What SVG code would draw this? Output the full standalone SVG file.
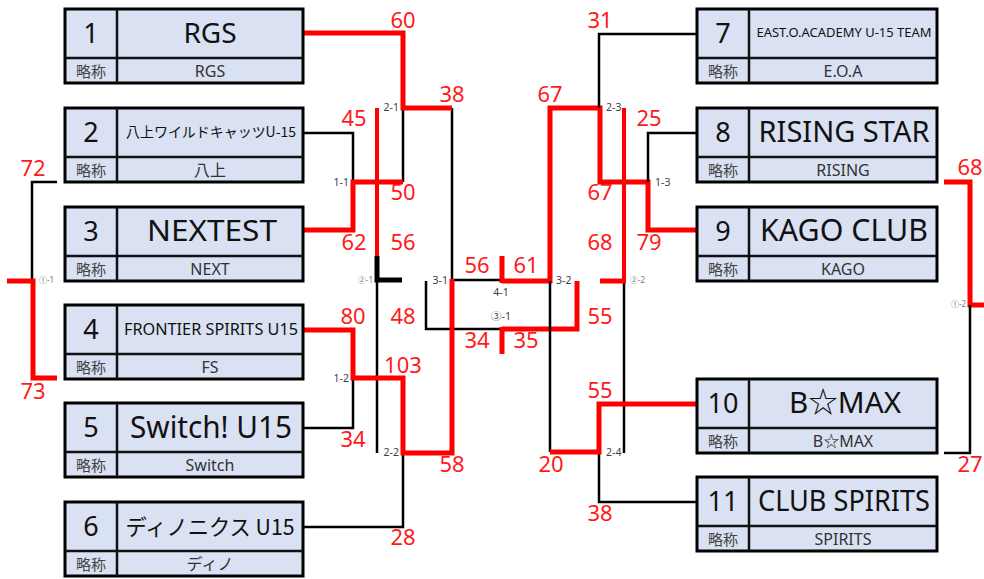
<svg xmlns="http://www.w3.org/2000/svg" width="984" height="579" viewBox="0 0 984 579">
<style>
.bx{fill:#D9E1F2;stroke:#000;stroke-width:3}
.dv{stroke:#111;stroke-width:2.5}
text{font-family:"Noto Sans","Noto Sans CJK JP",sans-serif}
.num{font-size:27px;fill:#111;text-anchor:middle}
.nm{fill:#111;text-anchor:middle}
.ry{font-size:15px;fill:#444;text-anchor:middle;font-family:"Noto Sans CJK JP",sans-serif}
.ab{font-size:16px;fill:#333;text-anchor:middle}
.sc{font-size:22px;fill:#FF1A1A;text-anchor:middle}
.ml{font-size:10.5px;fill:#404040}
.cl{font-size:8px;fill:#777}
.r{fill:none;stroke:#FF0000;stroke-width:5}
.rt{fill:none;stroke:#FF0000;stroke-width:4}
.k{fill:none;stroke:#000;stroke-width:2.5}
.kb{fill:none;stroke:#000;stroke-width:5}
</style>

<g id="connectors">
<path class="k" d="M403,108 V182"/>
<path class="k" d="M452,108 V280"/>
<path class="k" d="M304,133 H353 V182"/>
<path class="k" d="M304,428 H353 V378"/>
<path class="k" d="M304,527 H403 V453"/>
<path class="k" d="M377,280 V453"/>
<path class="kb" d="M377,256 V280 H402"/>
<path class="k" d="M452,280 H502"/>
<path class="k" d="M426,281 V329 H502"/>
<path class="r" d="M304,33 H403 V108 H452"/>
<path class="r" d="M304,230 H353 V182 H403"/>
<path class="r" d="M304,330 H353 V378 H403 V453 H452 V279"/>
<path class="rt" d="M377,108 V256"/>
<path class="r" d="M502,256 V283"/>
<path class="r" d="M502,327 V354"/>
<path class="r" d="M502,281 H550 V108 H600 V182 H648 V230 H697"/>
<path class="r" d="M502,329 H577 V281"/>
<path class="k" d="M697,34 H599 V108"/>
<path class="k" d="M697,133 H648 V182"/>
<path class="k" d="M550,281 V452"/>
<path class="k" d="M697,502 H599 V452"/>
<path class="k" d="M624,281 V453"/>
<path class="r" d="M697,404 H599 V452 H550"/>
<path class="rt" d="M624,108 V281"/>
<path class="r" d="M600,281 H626"/>
<path class="k" d="M57,182 H32 V280"/>
<path class="r" d="M7,281 H33 V378 H57"/>
<path class="r" d="M944,182 H970 V305 H984"/>
<path class="k" d="M970,305 V453 H944"/>
</g>

<g id="scores">
<text class="sc" x="403" y="28">60</text>
<text class="sc" x="452" y="102">38</text>
<text class="sc" x="354" y="126">45</text>
<text class="sc" x="403" y="200">50</text>
<text class="sc" x="354" y="250">62</text>
<text class="sc" x="403" y="250">56</text>
<text class="sc" x="33" y="176">72</text>
<text class="sc" x="33" y="399">73</text>
<text class="sc" x="353" y="324">80</text>
<text class="sc" x="403" y="324">48</text>
<text class="sc" x="403" y="373">103</text>
<text class="sc" x="353" y="447">34</text>
<text class="sc" x="452" y="472">58</text>
<text class="sc" x="403" y="545">28</text>
<text class="sc" x="477" y="273">56</text>
<text class="sc" x="526" y="273">61</text>
<text class="sc" x="477" y="348">34</text>
<text class="sc" x="526" y="348">35</text>
<text class="sc" x="600" y="28">31</text>
<text class="sc" x="550" y="102">67</text>
<text class="sc" x="649" y="126">25</text>
<text class="sc" x="600" y="200">67</text>
<text class="sc" x="600" y="250">68</text>
<text class="sc" x="649" y="250">79</text>
<text class="sc" x="600" y="324">55</text>
<text class="sc" x="600" y="398">55</text>
<text class="sc" x="551" y="472">20</text>
<text class="sc" x="600" y="521">38</text>
<text class="sc" x="970" y="175">68</text>
<text class="sc" x="970" y="472">27</text>
</g>

<g id="match-labels">
<text class="ml" x="399" y="111" text-anchor="end">2-1</text>
<text class="ml" x="349" y="186" text-anchor="end">1-1</text>
<text class="ml" x="349" y="382" text-anchor="end">1-2</text>
<text class="ml" x="399" y="456" text-anchor="end">2-2</text>
<text class="ml" x="448" y="284" text-anchor="end">3-1</text>
<text class="cl" x="373" y="283" text-anchor="end">②-1</text>
<text class="cl" x="39" y="283">①-1</text>
<text class="ml" x="606" y="111">2-3</text>
<text class="ml" x="655" y="186">1-3</text>
<text class="ml" x="556" y="284">3-2</text>
<text class="cl" x="630" y="283">②-2</text>
<text class="ml" x="606" y="456">2-4</text>
<text class="cl" x="951" y="307">①-2</text>
<text class="ml" x="501" y="296" text-anchor="middle">4-1</text>
<text class="ml" x="501" y="320" text-anchor="middle">③-1</text>
</g>

<g id="team1">
<rect class="bx" x="65" y="9" width="238" height="74"/>
<line class="dv" x1="117" y1="9" x2="117" y2="83"/><line class="dv" x1="65" y1="58" x2="303" y2="58"/>
<text class="num" x="91" y="43">1</text>
<text class="nm" x="210" y="43" font-size="28">RGS</text>
<text class="ry" x="91" y="77">略称</text><text class="ab" x="210" y="77">RGS</text>
</g>
<g id="team2">
<rect class="bx" x="65" y="108" width="238" height="74"/>
<line class="dv" x1="117" y1="108" x2="117" y2="182"/><line class="dv" x1="65" y1="157" x2="303" y2="157"/>
<text class="num" x="91" y="142">2</text>
<text class="nm" x="211" y="137" font-size="14" textLength="170" lengthAdjust="spacingAndGlyphs" style="font-family:'Noto Sans CJK JP',sans-serif">八上ワイルドキャッツU-15</text>
<text class="ry" x="91" y="176">略称</text><text class="ab" x="210" y="176" style="font-family:'Noto Sans CJK JP',sans-serif">八上</text>
</g>
<g id="team3">
<rect class="bx" x="65" y="207" width="238" height="74"/>
<line class="dv" x1="117" y1="207" x2="117" y2="281"/><line class="dv" x1="65" y1="256" x2="303" y2="256"/>
<text class="num" x="91" y="241">3</text>
<text class="nm" x="212" y="241" font-size="29" textLength="130" lengthAdjust="spacingAndGlyphs">NEXTEST</text>
<text class="ry" x="91" y="275">略称</text><text class="ab" x="210" y="275">NEXT</text>
</g>
<g id="team4">
<rect class="bx" x="65" y="305" width="238" height="74"/>
<line class="dv" x1="117" y1="305" x2="117" y2="379"/><line class="dv" x1="65" y1="354" x2="303" y2="354"/>
<text class="num" x="91" y="339">4</text>
<text class="nm" x="211" y="335" font-size="16" textLength="174" lengthAdjust="spacingAndGlyphs">FRONTIER SPIRITS U15</text>
<text class="ry" x="91" y="373">略称</text><text class="ab" x="210" y="373">FS</text>
</g>
<g id="team5">
<rect class="bx" x="65" y="403" width="238" height="74"/>
<line class="dv" x1="117" y1="403" x2="117" y2="477"/><line class="dv" x1="65" y1="452" x2="303" y2="452"/>
<text class="num" x="91" y="437">5</text>
<text class="nm" x="211" y="438" font-size="30" textLength="162" lengthAdjust="spacingAndGlyphs">Switch! U15</text>
<text class="ry" x="91" y="471">略称</text><text class="ab" x="210" y="471">Switch</text>
</g>
<g id="team6">
<rect class="bx" x="65" y="502" width="238" height="74"/>
<line class="dv" x1="117" y1="502" x2="117" y2="576"/><line class="dv" x1="65" y1="551" x2="303" y2="551"/>
<text class="num" x="91" y="536">6</text>
<text class="nm" x="210" y="535" font-size="22" textLength="169" lengthAdjust="spacingAndGlyphs" style="font-family:'Noto Sans CJK JP',sans-serif">ディノニクス U15</text>
<text class="ry" x="91" y="570">略称</text><text class="ab" x="210" y="570" style="font-family:'Noto Sans CJK JP',sans-serif">ディノ</text>
</g>

<g id="team7">
<rect class="bx" x="697" y="9" width="240" height="74"/>
<line class="dv" x1="749" y1="9" x2="749" y2="83"/><line class="dv" x1="697" y1="58" x2="937" y2="58"/>
<text class="num" x="723" y="43">7</text>
<text class="nm" x="844" y="37" font-size="13" textLength="175" lengthAdjust="spacingAndGlyphs">EAST.O.ACADEMY U-15 TEAM</text>
<text class="ry" x="723" y="77">略称</text><text class="ab" x="843" y="77">E.O.A</text>
</g>
<g id="team8">
<rect class="bx" x="697" y="108" width="240" height="74"/>
<line class="dv" x1="749" y1="108" x2="749" y2="182"/><line class="dv" x1="697" y1="157" x2="937" y2="157"/>
<text class="num" x="723" y="142">8</text>
<text class="nm" x="844" y="142" font-size="29" textLength="171" lengthAdjust="spacingAndGlyphs">RISING STAR</text>
<text class="ry" x="723" y="176">略称</text><text class="ab" x="843" y="176">RISING</text>
</g>
<g id="team9">
<rect class="bx" x="697" y="207" width="240" height="74"/>
<line class="dv" x1="749" y1="207" x2="749" y2="281"/><line class="dv" x1="697" y1="256" x2="937" y2="256"/>
<text class="num" x="723" y="241">9</text>
<text class="nm" x="844" y="241" font-size="30" textLength="168" lengthAdjust="spacingAndGlyphs">KAGO CLUB</text>
<text class="ry" x="723" y="275">略称</text><text class="ab" x="843" y="275">KAGO</text>
</g>
<g id="team10">
<rect class="bx" x="697" y="379" width="240" height="74"/>
<line class="dv" x1="749" y1="379" x2="749" y2="453"/><line class="dv" x1="697" y1="428" x2="937" y2="428"/>
<text class="num" x="723" y="413">10</text>
<text class="nm" x="845" y="413" font-size="29" textLength="112" lengthAdjust="spacingAndGlyphs">B☆MAX</text>
<text class="ry" x="723" y="447">略称</text><text class="ab" x="843" y="447">B☆MAX</text>
</g>
<g id="team11">
<rect class="bx" x="697" y="477" width="240" height="74"/>
<line class="dv" x1="749" y1="477" x2="749" y2="551"/><line class="dv" x1="697" y1="526" x2="937" y2="526"/>
<text class="num" x="723" y="511">11</text>
<text class="nm" x="844" y="511" font-size="29" textLength="172" lengthAdjust="spacingAndGlyphs">CLUB SPIRITS</text>
<text class="ry" x="723" y="545">略称</text><text class="ab" x="843" y="545">SPIRITS</text>
</g>
</svg>
